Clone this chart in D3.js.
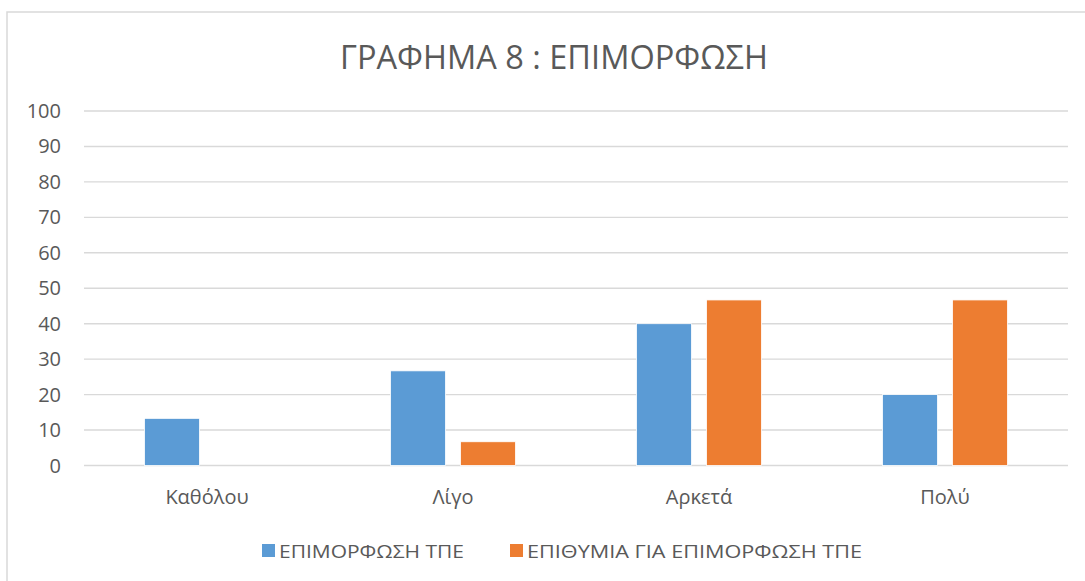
<!DOCTYPE html>
<html>
<head>
<meta charset="utf-8">
<script src="https://cdn.jsdelivr.net/npm/d3@7"></script>
<style>
  body { margin: 0; background: #fff; }
  svg { display: block; font-family: "Open Sans", "Noto Sans", sans-serif; }
</style>
</head>
<body>
<div id="chart"></div>
<script>
// Данные графика
const categories = ['Καθόλου', 'Λίγο', 'Αρκετά', 'Πολύ'];
const seriesNames = ['ΕΠΙΜΟΡΦΩΣΗ ΤΠΕ', 'ΕΠΙΘΥΜΙΑ ΓΙΑ ΕΠΙΜΟΡΦΩΣΗ ΤΠΕ'];
const training = [13.3, 26.7, 40, 20];
const desire = [0, 6.7, 46.7, 46.7];
const yTicks = [0, 10, 20, 30, 40, 50, 60, 70, 80, 90, 100];
const colors = ['#5b9bd5', '#ed7d31'];

const width = 1085;
const height = 581;
const margin = { left: 84, right: 17, top: 111, bottom: 115.5 };

const svg = d3.select('#chart')
    .append('svg')
    .attr('width', width)
    .attr('height', height);

// рамка области диаграммы
svg.append('rect')
    .attr('x', 7)
    .attr('y', 12)
    .attr('width', 1100)
    .attr('height', 620)
    .attr('fill', 'none')
    .attr('stroke', '#d9d9d9')
    .attr('stroke-width', 1.5);

// заголовок
svg.append('text')
    .attr('x', 554)
    .attr('y', 69)
    .attr('text-anchor', 'middle')
    .attr('font-size', 33)
    .attr('fill', '#595959')
    .attr('textLength', 428)
    .attr('lengthAdjust', 'spacingAndGlyphs')
    .text('ΓΡΑΦΗΜΑ 8 : ΕΠΙΜΟΡΦΩΣΗ');

const x0 = d3.scaleBand()
    .domain(categories)
    .range([margin.left, width - margin.right])
    .padding(0);

// два столбца по 55px с промежутком 15px
const x1 = d3.scaleBand()
    .domain([0, 1])
    .range([-62.5, 62.5])
    .paddingInner(15 / 70);

const y = d3.scaleLinear()
    .domain([0, 100])
    .range([height - margin.bottom, margin.top]);

// сетка
svg.append('g')
    .selectAll('line')
    .data(yTicks)
    .enter().append('line')
    .attr('x1', margin.left)
    .attr('x2', width - margin.right)
    .attr('y1', d => y(d))
    .attr('y2', d => y(d))
    .attr('stroke', '#d9d9d9')
    .attr('stroke-width', 1.4);

// подписи оси Y
svg.append('g')
    .selectAll('text')
    .data(yTicks)
    .enter().append('text')
    .attr('x', 61)
    .attr('y', d => y(d) + 7)
    .attr('text-anchor', 'end')
    .attr('font-size', 20)
    .attr('fill', '#595959')
    .text(d => d);

// столбцы
const rows = categories.map((c, i) => ({ cat: c, values: [training[i], desire[i]] }));

const groups = svg.append('g')
    .selectAll('g')
    .data(rows)
    .enter().append('g')
    .attr('transform', d => `translate(${x0(d.cat) + x0.bandwidth() / 2},0)`);

groups.selectAll('rect')
    .data(d => d.values.map((v, k) => ({ k, v })))
    .enter().append('rect')
    .attr('x', d => x1(d.k))
    .attr('width', x1.bandwidth())
    .attr('y', d => y(d.v))
    .attr('height', d => y(0) - y(d.v))
    .attr('fill', d => colors[d.k])
    .attr('stroke', '#fff')
    .attr('stroke-width', d => d.v > 0 ? 0.8 : 0);

// подписи категорий
svg.append('g')
    .selectAll('text')
    .data(categories)
    .enter().append('text')
    .attr('x', d => x0(d) + x0.bandwidth() / 2)
    .attr('y', 504)
    .attr('text-anchor', 'middle')
    .attr('font-size', 20)
    .attr('fill', '#595959')
    .text(d => d);

// легенда
const legendPos = [{ x: 262, w: 185 }, { x: 510, w: 335 }];
const legend = svg.append('g')
    .selectAll('g')
    .data(seriesNames)
    .enter().append('g')
    .attr('transform', (d, i) => `translate(${legendPos[i].x},544)`);

legend.append('rect')
    .attr('width', 13)
    .attr('height', 13)
    .attr('fill', (d, i) => colors[i]);

legend.append('text')
    .attr('x', 17)
    .attr('y', 13.5)
    .attr('font-size', 18)
    .attr('fill', '#595959')
    .attr('textLength', (d, i) => legendPos[i].w)
    .attr('lengthAdjust', 'spacingAndGlyphs')
    .text(d => d);
</script>
</body>
</html>
